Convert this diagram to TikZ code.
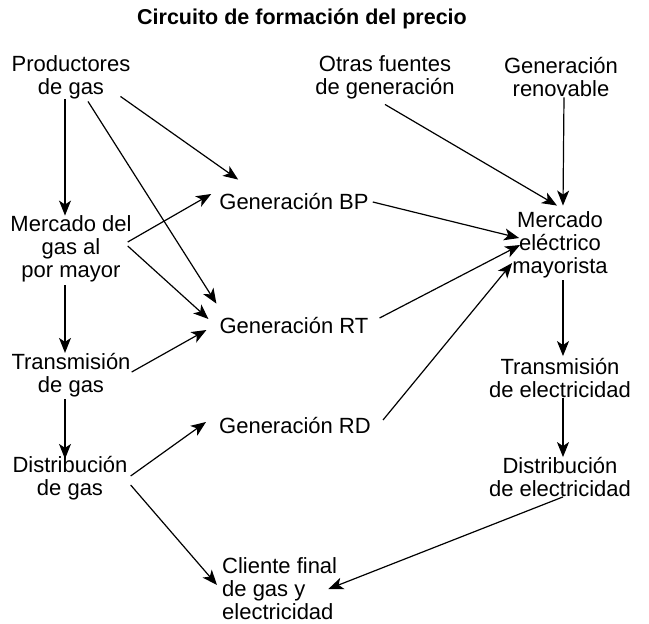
\documentclass[tikz,border=0pt]{standalone}
\usepackage{fontspec}
\setmainfont{Liberation Sans}
\usepackage{tikz}
\usetikzlibrary{arrows.meta}
\tikzstyle{stage}=[inner sep=0pt, align=center, font=\fontsize{22}{23}\selectfont]
\tikzstyle{flow}=[-{Stealth[length=15pt, width=12pt, inset=4pt]}, line width=1.2pt]

\begin{document}
\begin{tikzpicture}[x=1pt, y=-1pt]
        \useasboundingbox (0,0) rectangle (649,624);
        \node[font=\bfseries\fontsize{21.5}{23}\selectfont] (title) at (302,19) {Circuito de formación del precio};
        \node[stage] (prod) at (71,77.5) {Productores\\de gas};
        \node[stage] (otras) at (385,77.5) {Otras fuentes\\de generación};
        \node[stage] (renov) at (561,77.5) {Generación\\renovable};
        \node[stage] (mgas) at (71,249) {Mercado del\\gas al\\por mayor};
        \node[stage] (melec) at (560,245) {Mercado\\eléctrico\\mayorista};
        \node[stage] (bp) at (294,202) {Generación BP};
        \node[stage] (rt) at (294,326) {Generación RT};
        \node[stage] (rd) at (295,426) {Generación RD};
        \node[stage] (tgas) at (71,375) {Transmisión\\de gas};
        \node[stage] (telec) at (560,378) {Transmisión\\de electricidad};
        \node[stage] (dgas) at (70,478) {Distribución\\de gas};
        \node[stage] (delec) at (560,477) {Distribución\\de electricidad};
        \node[stage, align=left, anchor=west] (cliente) at (222,589) {Cliente final\\de gas y\\electricidad};
        \draw[flow] ([xshift=-6pt]prod.south) -- ([xshift=-6pt]mgas.north);
        \draw[flow] ([xshift=-10pt, yshift=3pt]prod.south east) -- ([xshift=19pt, yshift=14pt]bp.north west);
        \draw[flow] ([xshift=17pt, yshift=-2pt]prod.south) -- ([xshift=-3pt, yshift=14pt]rt.north west);
        \draw[flow] ([xshift=-4pt, yshift=7pt]mgas.east) -- ([xshift=-8pt, yshift=8pt]bp.west);
        \draw[flow] ([xshift=-4pt, yshift=3pt]mgas.east) -- ([xshift=-11pt, yshift=7pt]rt.west);
        \draw[flow] ([xshift=-6pt, yshift=-3pt]mgas.south) -- ([xshift=-6pt]tgas.north);
        \draw[flow] ([xshift=1pt, yshift=3pt]tgas.east) -- ([xshift=-13pt, yshift=-4pt]rt.west);
        \draw[flow] ([xshift=-6pt, yshift=-2pt]tgas.south) -- ([xshift=-5pt, yshift=-3pt]dgas.north);
        \draw[flow] ([xshift=3pt, yshift=2pt]dgas.east) -- ([xshift=-13pt, yshift=4pt]rd.west);
        \draw[flow] ([xshift=3pt, yshift=-7pt]dgas.east) -- ([xshift=-5pt, yshift=4pt]cliente.west);
        \draw[flow] ([yshift=-5pt]otras.south) -- ([xshift=-3pt, yshift=6pt]melec.north);
        \draw[flow] ([xshift=3pt]renov.south) -- ([xshift=3pt, yshift=6pt]melec.north);
        \draw[flow] ([xshift=4pt]bp.east) -- ([xshift=7pt, yshift=7pt]melec.west);
        \draw[flow] ([xshift=11pt, yshift=8pt]rt.east) -- ([xshift=8pt]melec.west);
        \draw[flow] ([xshift=12pt, yshift=6pt]rd.east) -- ([yshift=-18pt]melec.west);
        \draw[flow] ([xshift=3pt, yshift=-2pt]melec.south) -- ([xshift=3pt, yshift=2pt]telec.north);
        \draw[flow] ([xshift=3pt]telec.south) -- ([xshift=3pt]delec.north);
        \draw[flow] ([xshift=3pt]delec.south) -- ([xshift=-9pt]cliente.east);
    \end{tikzpicture}
\end{document}
